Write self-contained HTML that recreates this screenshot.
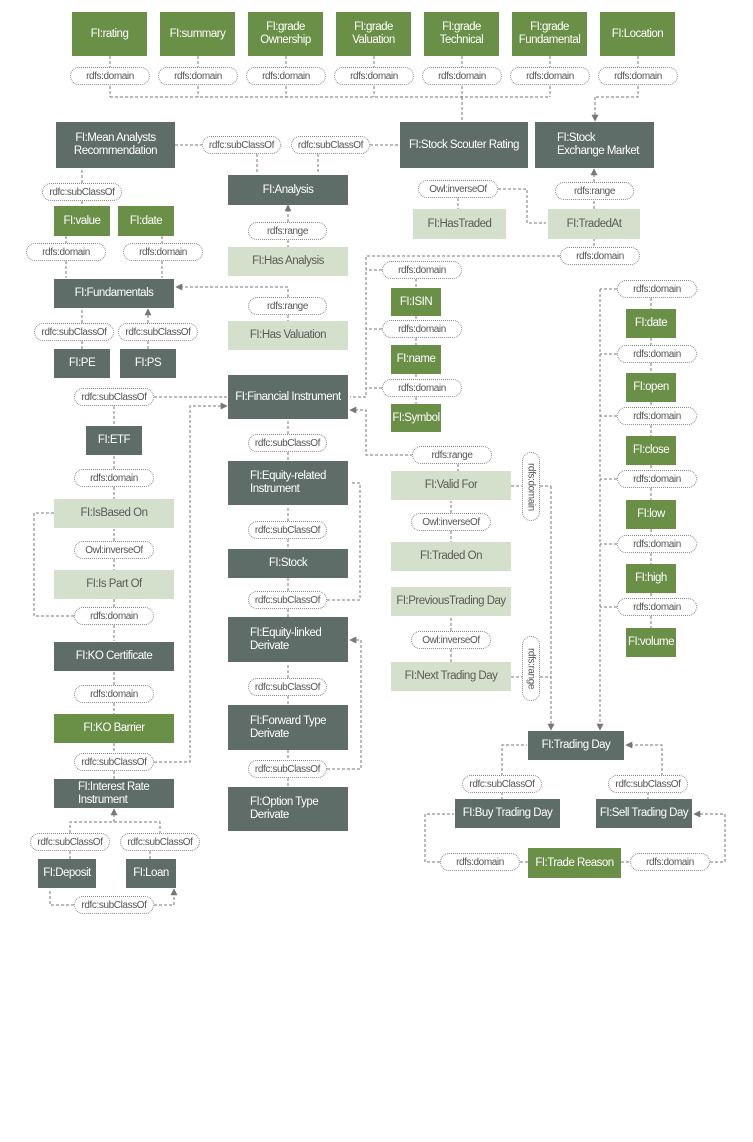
<!DOCTYPE html>
<html><head><meta charset="utf-8"><style>
body{margin:0;background:#fff;width:753px;height:1142px;position:relative;overflow:hidden;font-family:"Liberation Sans",sans-serif}
.b{position:absolute;display:flex;align-items:center;justify-content:center;text-align:center;color:#fff;font-size:11.5px;line-height:13px;letter-spacing:-0.5px;box-sizing:border-box;padding:0 2px;white-space:nowrap}
.g{background:#6a8f47}.d{background:#5f6d69}.l{background:#d5e0cc;color:#5a5a5a}
.L{justify-content:flex-start;text-align:left;padding-left:22px}
.p{position:absolute;height:18px;border:1px dotted #888;border-radius:9px;box-sizing:border-box;font-size:10px;color:#555;display:flex;align-items:center;justify-content:center;background:#fff;letter-spacing:-0.4px;white-space:nowrap}
.v{width:18px;writing-mode:vertical-rl}
svg{position:absolute;left:0;top:0}
</style></head><body>
<svg width="753" height="1142" fill="none" stroke="#777" stroke-width="1" stroke-dasharray="3,2">
<defs><marker id="a" viewBox="0 0 10 10" refX="9" refY="5" markerWidth="7" markerHeight="7" orient="auto"><path d="M0,0L10,5L0,10z" fill="#777" stroke="none"/></marker></defs>
<path d="M110,56V97M198,56V97M286,56V97M374,56V97M462,56V97M550,56V97M110,97H550M638,56V97H595"/>
<path d="M462,97V121M595,97V121" marker-end="url(#a)"/>
<path d="M175,145H202M370,145H400"/>
<path d="M257,154V174M318,154V174M288,222V205" marker-end="url(#a)"/>
<path d="M288,240V247M288,315V321"/>
<path d="M288,297V287H176" marker-end="url(#a)"/>
<path d="M82,201V206M66,236V243M162,236V243M82,341V349M148,341V349"/>
<path d="M82,183V169M66,261V278M162,261V278M82,323V309M148,323V309" marker-end="url(#a)"/>
<path d="M154,397H228"/>
<path d="M114,406V425M114,469V455M114,541V529M114,625V641M114,685V672M114,822V809" marker-end="url(#a)"/>
<path d="M114,487V499M114,559V570M114,599V607M54,513H34V616H74M114,703V714M114,743V753M114,771V779M70,833V822H160V833M70,851V859M150,851V859"/>
<path d="M154,762H190V406H227" marker-end="url(#a)"/>
<path d="M74,905H50V890M154,905H174V889" marker-end="url(#a)"/>
<path d="M288,434V420M288,521V506M327,600H360V483H350M288,678V663M327,769H361V640H350" marker-end="url(#a)"/>
<path d="M288,452V461M288,539V549M288,578V591M288,609V617M288,696V705M288,750V760M288,778V787"/>
<path d="M560,256H366V397H350M418,455H366V410H350" marker-end="url(#a)"/>
<path d="M382,270H366M382,329H366M382,388H366M416,279V288M416,316V320M416,338V345M416,374V379M416,397V404M458,464V471M451,531V542M451,649V662M511,486H522M540,486H551M511,677H522M540,677H551"/>
<path d="M451,513V501M451,631V618M551,486V730" marker-end="url(#a)"/>
<path d="M458,198V209M594,209V200M594,238V247"/>
<path d="M498,189H527V223H546M594,182V169" marker-end="url(#a)"/>
<path d="M617,289H600M617,354H600M617,416H600M617,479H600M617,544H600M617,607H600M651,298V309M651,338V345M651,363V373M651,402V407M651,425V436M651,465V470M651,488V500M651,529V535M651,553V564M651,593V598M651,616V628"/>
<path d="M600,289V730" marker-end="url(#a)"/>
<path d="M502,776V745H527M662,776V745H626" marker-end="url(#a)"/>
<path d="M502,792V799M648,792V799M528,862H520M621,862H630"/>
<path d="M440,862H425V814H454M710,862H725V814H694" marker-end="url(#a)"/>
</svg>

<div class="b g" style="left:72px;top:12px;width:75px;height:44px">FI:rating</div>
<div class="b g" style="left:160px;top:12px;width:75px;height:44px">FI:summary</div>
<div class="b g" style="left:248px;top:12px;width:75px;height:44px">FI:grade<br>Ownership</div>
<div class="b g" style="left:336px;top:12px;width:75px;height:44px">FI:grade<br>Valuation</div>
<div class="b g" style="left:424px;top:12px;width:75px;height:44px">FI:grade<br>Technical</div>
<div class="b g" style="left:512px;top:12px;width:75px;height:44px">FI:grade<br>Fundamental</div>
<div class="b g" style="left:600px;top:12px;width:75px;height:44px">FI:Location</div>
<div class="p" style="left:70px;top:67px;width:80px">rdfs:domain</div>
<div class="p" style="left:158px;top:67px;width:80px">rdfs:domain</div>
<div class="p" style="left:246px;top:67px;width:80px">rdfs:domain</div>
<div class="p" style="left:334px;top:67px;width:80px">rdfs:domain</div>
<div class="p" style="left:422px;top:67px;width:80px">rdfs:domain</div>
<div class="p" style="left:510px;top:67px;width:80px">rdfs:domain</div>
<div class="p" style="left:598px;top:67px;width:80px">rdfs:domain</div>

<div class="b d" style="left:56px;top:122px;width:119px;height:46px">FI:Mean Analysts<br>Recommendation</div>
<div class="p" style="left:202px;top:136px;width:79px">rdfc:subClassOf</div>
<div class="p" style="left:291px;top:136px;width:79px">rdfc:subClassOf</div>
<div class="b d" style="left:400px;top:122px;width:128px;height:46px">FI:Stock Scouter Rating</div>
<div class="b d L" style="left:535px;top:122px;width:119px;height:46px">FI:Stock<br>Exchange Market</div>
<div class="b d" style="left:228px;top:175px;width:120px;height:30px">FI:Analysis</div>
<div class="p" style="left:418px;top:180px;width:80px">Owl:inverseOf</div>
<div class="b l" style="left:413px;top:209px;width:93px;height:30px">FI:HasTraded</div>
<div class="p" style="left:555px;top:182px;width:79px">rdfs:range</div>
<div class="b l" style="left:548px;top:209px;width:92px;height:30px">FI:TradedAt</div>
<div class="p" style="left:248px;top:222px;width:79px">rdfs:range</div>
<div class="b l" style="left:228px;top:247px;width:120px;height:29px">FI:Has Analysis</div>
<div class="p" style="left:560px;top:247px;width:80px">rdfs:domain</div>

<div class="p" style="left:42px;top:183px;width:80px">rdfc:subClassOf</div>
<div class="b g" style="left:54px;top:206px;width:56px;height:30px">FI:value</div>
<div class="b g" style="left:118px;top:206px;width:56px;height:30px">FI:date</div>
<div class="p" style="left:26px;top:243px;width:80px">rdfs:domain</div>
<div class="p" style="left:123px;top:243px;width:80px">rdfs:domain</div>
<div class="b d" style="left:54px;top:279px;width:120px;height:29px">FI:Fundamentals</div>
<div class="p" style="left:248px;top:297px;width:79px">rdfs:range</div>
<div class="b l" style="left:228px;top:321px;width:120px;height:29px">FI:Has Valuation</div>
<div class="p" style="left:34px;top:323px;width:80px">rdfc:subClassOf</div>
<div class="p" style="left:118px;top:323px;width:80px">rdfc:subClassOf</div>
<div class="b d" style="left:54px;top:349px;width:56px;height:29px">FI:PE</div>
<div class="b d" style="left:120px;top:349px;width:56px;height:29px">FI:PS</div>

<div class="b d" style="left:228px;top:375px;width:120px;height:44px">FI:Financial Instrument</div>
<div class="p" style="left:74px;top:388px;width:80px">rdfc:subClassOf</div>
<div class="b d" style="left:86px;top:426px;width:56px;height:29px">FI:ETF</div>
<div class="p" style="left:74px;top:469px;width:80px">rdfs:domain</div>
<div class="b l" style="left:54px;top:499px;width:120px;height:29px">FI:IsBased On</div>
<div class="p" style="left:74px;top:541px;width:80px">Owl:inverseOf</div>
<div class="b l" style="left:54px;top:570px;width:120px;height:29px">FI:Is Part Of</div>
<div class="p" style="left:74px;top:607px;width:80px">rdfs:domain</div>
<div class="b d" style="left:54px;top:642px;width:120px;height:29px">FI:KO Certificate</div>
<div class="p" style="left:74px;top:685px;width:80px">rdfs:domain</div>
<div class="b g" style="left:54px;top:714px;width:120px;height:29px">FI:KO Barrier</div>
<div class="p" style="left:74px;top:753px;width:80px">rdfc:subClassOf</div>
<div class="b d L" style="left:54px;top:779px;width:120px;height:29px;padding-left:24px">FI:Interest Rate<br>Instrument</div>
<div class="p" style="left:30px;top:833px;width:80px">rdfc:subClassOf</div>
<div class="p" style="left:120px;top:833px;width:80px">rdfc:subClassOf</div>
<div class="b d" style="left:38px;top:859px;width:58px;height:29px">FI:Deposit</div>
<div class="b d" style="left:126px;top:859px;width:50px;height:29px">FI:Loan</div>
<div class="p" style="left:74px;top:896px;width:80px">rdfc:subClassOf</div>

<div class="p" style="left:248px;top:434px;width:79px">rdfc:subClassOf</div>
<div class="b d L" style="left:228px;top:461px;width:120px;height:44px">FI:Equity-related<br>Instrument</div>
<div class="p" style="left:248px;top:521px;width:79px">rdfc:subClassOf</div>
<div class="b d" style="left:228px;top:549px;width:120px;height:29px">FI:Stock</div>
<div class="p" style="left:248px;top:591px;width:79px">rdfc:subClassOf</div>
<div class="b d L" style="left:228px;top:617px;width:120px;height:45px">FI:Equity-linked<br>Derivate</div>
<div class="p" style="left:248px;top:678px;width:79px">rdfc:subClassOf</div>
<div class="b d L" style="left:228px;top:705px;width:120px;height:45px">FI:Forward Type<br>Derivate</div>
<div class="p" style="left:248px;top:760px;width:79px">rdfc:subClassOf</div>
<div class="b d L" style="left:228px;top:787px;width:120px;height:44px">FI:Option Type<br>Derivate</div>

<div class="p" style="left:382px;top:261px;width:80px">rdfs:domain</div>
<div class="b g" style="left:391px;top:288px;width:50px;height:28px">FI:ISIN</div>
<div class="p" style="left:382px;top:320px;width:80px">rdfs:domain</div>
<div class="b g" style="left:391px;top:345px;width:50px;height:29px">FI:name</div>
<div class="p" style="left:382px;top:379px;width:80px">rdfs:domain</div>
<div class="b g" style="left:391px;top:404px;width:50px;height:28px">FI:Symbol</div>
<div class="p" style="left:412px;top:446px;width:80px">rdfs:range</div>
<div class="b l" style="left:391px;top:471px;width:120px;height:29px">FI:Valid For</div>
<div class="p v" style="left:522px;top:452px;height:69px">rdfs:domain</div>
<div class="p" style="left:411px;top:513px;width:80px">Owl:inverseOf</div>
<div class="b l" style="left:391px;top:542px;width:120px;height:29px">FI:Traded On</div>
<div class="b l" style="left:391px;top:587px;width:120px;height:29px">FI:PreviousTrading Day</div>
<div class="p" style="left:411px;top:631px;width:80px">Owl:inverseOf</div>
<div class="b l" style="left:391px;top:662px;width:120px;height:29px">FI:Next Trading Day</div>
<div class="p v" style="left:522px;top:636px;height:65px">rdfs:range</div>

<div class="p" style="left:617px;top:280px;width:80px">rdfs:domain</div>
<div class="b g" style="left:626px;top:309px;width:50px;height:29px">FI:date</div>
<div class="p" style="left:617px;top:345px;width:80px">rdfs:domain</div>
<div class="b g" style="left:626px;top:373px;width:50px;height:29px">FI:open</div>
<div class="p" style="left:617px;top:407px;width:80px">rdfs:domain</div>
<div class="b g" style="left:626px;top:436px;width:50px;height:29px">FI:close</div>
<div class="p" style="left:617px;top:470px;width:80px">rdfs:domain</div>
<div class="b g" style="left:626px;top:500px;width:50px;height:29px">FI:low</div>
<div class="p" style="left:617px;top:535px;width:80px">rdfs:domain</div>
<div class="b g" style="left:626px;top:564px;width:50px;height:29px">FI:high</div>
<div class="p" style="left:617px;top:598px;width:80px">rdfs:domain</div>
<div class="b g" style="left:626px;top:628px;width:50px;height:29px">FI:volume</div>

<div class="b d" style="left:528px;top:731px;width:96px;height:29px">FI:Trading Day</div>
<div class="p" style="left:462px;top:775px;width:80px">rdfc:subClassOf</div>
<div class="p" style="left:608px;top:775px;width:80px">rdfc:subClassOf</div>
<div class="b d" style="left:455px;top:799px;width:105px;height:29px">FI:Buy Trading Day</div>
<div class="b d" style="left:596px;top:799px;width:96px;height:29px">FI:Sell Trading Day</div>
<div class="p" style="left:440px;top:853px;width:80px">rdfs:domain</div>
<div class="b g" style="left:528px;top:848px;width:93px;height:30px">FI:Trade Reason</div>
<div class="p" style="left:630px;top:853px;width:80px">rdfs:domain</div>
</body></html>
